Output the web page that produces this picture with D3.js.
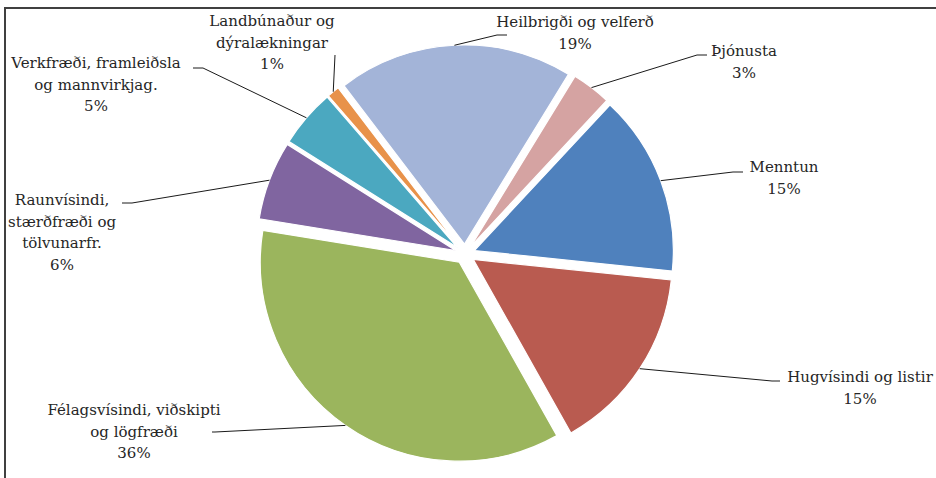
<!DOCTYPE html>
<html>
<head>
<meta charset="utf-8">
<script src="https://cdn.jsdelivr.net/npm/d3@7"></script>
<style>
  body { margin: 0; background: #fff; }
  svg text { font-family: "DejaVu Serif", serif; font-size: 15px; fill: #262626; }
</style>
</head>
<body>
<div id="chart"></div>
<script>
// fields in ISCED order, share of total (%)
let fields = [
  "Menntun",
  "Hugvísindi og listir",
  "Félagsvísindi, viðskipti og lögfræði",
  "Raunvísindi, stærðfræði og tölvunarfr.",
  "Verkfræði, framleiðsla og mannvirkjag.",
  "Landbúnaður og dýralækningar",
  "Heilbrigði og velferð",
  "Þjónusta"
];
let shares = [14.7, 15.2, 35.7, 6.4, 4.7, 1.0, 19.1, 3.2];
let colors = ["#4f81bd", "#b95b50", "#9bb55d", "#8065a0", "#4ba8c0", "#e8924a", "#a3b4d8", "#d5a3a2"];

// label lines as shown on chart
let labelLines = [
  ["Menntun"],
  ["Hugvísindi og listir"],
  ["Félagsvísindi, viðskipti", "og lögfræði"],
  ["Raunvísindi,", "stærðfræði og", "tölvunarfr."],
  ["Verkfræði, framleiðsla", "og mannvirkjag."],
  ["Landbúnaður og", "dýralækningar"],
  ["Heilbrigði og velferð"],
  ["Þjónusta"]
];

let svgWidth = 936, svgHeight = 478;
let cx = 465, cy = 254, radius = 199, explode = 10;

// label placement: text center x, first line y, leader elbow and end
let labelLayout = [
  { x: 784, y: 167, elbow: [733, 172], end: [743, 172] },
  { x: 860, y: 377, elbow: [772, 381], end: [780, 381] },
  { x: 134, y: 410, elbow: [215, 432], end: [212, 432] },
  { x: 62,  y: 200, elbow: [132, 203], end: [122, 203] },
  { x: 96,  y: 63,  elbow: [203, 68],  end: [193, 68] },
  { x: 272, y: 21,  elbow: [335, 55],  end: [335, 55] },
  { x: 575, y: 22,  elbow: [497, 35],  end: [507, 35] },
  { x: 744, y: 51,  elbow: [697, 55],  end: [707, 55] }
];

let svg = d3.select("#chart")
  .append("svg")
  .attr("width", svgWidth)
  .attr("height", svgHeight);

// frame (top and left edges visible)
svg.append("path")
  .attr("d", "M5,478 V8 H936")
  .attr("fill", "none")
  .attr("stroke", "#404040")
  .attr("stroke-width", 2);

let data = fields.map((f, i) => ({ field: f, share: shares[i], i: i }));

let pie = d3.pie()
  .sort(null)
  .value(d => d.share)
  .startAngle(43 * Math.PI / 180)
  .endAngle(43 * Math.PI / 180 + 2 * Math.PI);

let arc = d3.arc().innerRadius(0).outerRadius(radius);
let arcs = pie(data);

let pieGroup = svg.append("g")
  .attr("transform", `translate(${cx},${cy})`);

function midAngle(d) { return (d.startAngle + d.endAngle) / 2; }

pieGroup.selectAll("path")
  .data(arcs)
  .enter()
  .append("path")
  .attr("d", arc)
  .attr("transform", d => {
    let a = midAngle(d);
    return `translate(${explode * Math.sin(a)},${-explode * Math.cos(a)})`;
  })
  .attr("fill", d => colors[d.data.i])
  .attr("stroke", "#fff")
  .attr("stroke-width", 1.2);

// leader lines from the slice's outer mid-point
svg.selectAll("polyline.leader")
  .data(arcs)
  .enter()
  .append("polyline")
  .attr("class", "leader")
  .attr("fill", "none")
  .attr("stroke", "#1a1a1a")
  .attr("stroke-width", 1)
  .attr("points", d => {
    let a = midAngle(d);
    let r = radius + explode;
    let p0 = [cx + r * Math.sin(a), cy - r * Math.cos(a)];
    let L = labelLayout[d.data.i];
    return [p0, L.elbow, L.end].map(p => p.join(",")).join(" ");
  });

// labels
let fmt = d3.format(".0f");
let labels = svg.selectAll("text.lbl")
  .data(arcs)
  .enter()
  .append("text")
  .attr("class", "lbl")
  .attr("text-anchor", "middle");

labels.each(function (d) {
  let L = labelLayout[d.data.i];
  let lines = labelLines[d.data.i].concat([fmt(d.data.share) + "%"]);
  let t = d3.select(this);
  lines.forEach((s, k) => {
    t.append("tspan")
      .attr("x", L.x)
      .attr("y", L.y + k * 21.5)
      .attr("dy", "0.35em")
      .text(s);
  });
});
</script>
</body>
</html>
